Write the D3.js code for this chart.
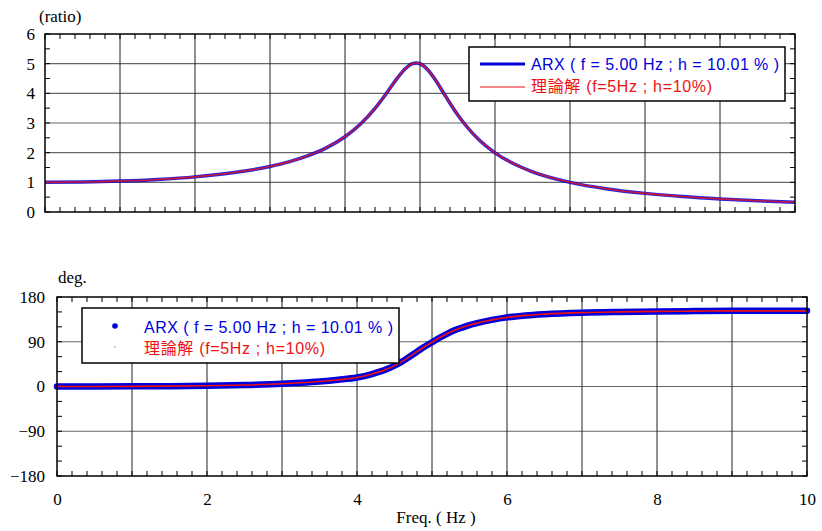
<!DOCTYPE html>
<html><head><meta charset="utf-8">
<script src="https://cdn.jsdelivr.net/npm/d3@7"></script>
<style>body{margin:0;background:#fff}</style></head>
<body>
<svg id="c" width="822" height="531"></svg>
<script>
const freq = [0,0.5,1,1.5,2,2.5,3,3.25,3.5,3.75,4,4.2,4.4,4.5,4.6,4.7,4.8,4.9,4.95,5,5.1,5.2,5.3,5.4,5.5,5.6,5.8,6,6.25,6.5,7,7.5,8,8.5,9,9.5,10];
const theoryRatio = [1.000,1.010,1.041,1.097,1.185,1.322,1.536,1.689,1.891,2.162,2.538,2.950,3.495,3.821,4.172,4.522,4.822,5.001,5.025,5.000,4.809,4.476,4.075,3.668,3.288,2.950,2.402,1.995,1.625,1.356,1.000,0.778,0.628,0.521,0.441,0.379,0.330];
const arxRatio = [1.000,1.010,1.041,1.097,1.184,1.321,1.535,1.688,1.890,2.161,2.537,2.949,3.493,3.819,4.170,4.520,4.820,4.999,5.022,4.997,4.806,4.473,4.072,3.666,3.286,2.949,2.401,1.995,1.625,1.356,1.000,0.778,0.628,0.521,0.441,0.379,0.330];
const theoryPhase = [0,0.1,0.3,0.7,1.5,3,5.5,7.5,10,13.5,18,25,35,42,50,60,70,80,84.5,89,98,106,113,118.5,123.5,127.5,134,139,143,145.5,148.5,150,151,151.5,152,152,152];
const arxPhase = [0,0.1,0.3,0.7,1.5,3,5.5,7.5,10,13.5,18,25,35,42,50,60,70,80,84.5,89,98,106,113,118.5,123.5,127.5,134,139,143,145.5,148.5,150,151,151.6,152.1,152.2,152.2];
const xTicks = [0,2,4,6,8,10];
const ratioTicks = [0,1,2,3,4,5,6];
const phaseTicks = [-180,-90,0,90,180];
const legendLabels = ["ARX ( f = 5.00 Hz ; h = 10.01 % )", "理論解 (f=5Hz ; h=10%)"];

const svg = d3.select("#c");
const serif = '"Liberation Serif","Times New Roman",serif';
const sans = '"Liberation Sans",Arial,"Noto Sans CJK JP",sans-serif';
const BLUE = "#0000dd", RED = "#ee1111";

function panel(x, y, gridX, gridY, minorX, minorY) {
  const g = svg.append("g");
  const [x0, x1] = x.range(), [yb, yt] = y.range();
  g.selectAll("line.gy").data(gridY).join("line").attr("class","gy")
    .attr("x1", x0).attr("x2", x1).attr("y1", d => y(d)).attr("y2", d => y(d))
    .attr("stroke", "#666").attr("stroke-width", 1.2);
  g.selectAll("line.gx").data(gridX).join("line").attr("class","gx")
    .attr("y1", yt).attr("y2", yb).attr("x1", d => x(d)).attr("x2", d => x(d))
    .attr("stroke", "#222").attr("stroke-width", 1);
  const t = 5;
  const tk = svg.append("g");
  tk.selectAll("line.mb").data(minorX).join("line").attr("class","mb")
    .attr("x1", d => x(d)).attr("x2", d => x(d)).attr("y1", yb).attr("y2", yb - t);
  tk.selectAll("line.mt").data(minorX).join("line").attr("class","mt")
    .attr("x1", d => x(d)).attr("x2", d => x(d)).attr("y1", yt).attr("y2", yt + t);
  tk.selectAll("line.ml").data(minorY).join("line").attr("class","ml")
    .attr("y1", d => y(d)).attr("y2", d => y(d)).attr("x1", x0).attr("x2", x0 + t);
  tk.selectAll("line.mr").data(minorY).join("line").attr("class","mr")
    .attr("y1", d => y(d)).attr("y2", d => y(d)).attr("x1", x1).attr("x2", x1 - t);
  tk.selectAll("line").attr("stroke", "#000").attr("stroke-width", 1);
  return {g, tk};
}

function frame(x, y) {
  const [x0, x1] = x.range(), [yb, yt] = y.range();
  svg.append("rect").attr("x", x0).attr("y", yt).attr("width", x1 - x0).attr("height", yb - yt)
    .attr("fill", "none").attr("stroke", "#000").attr("stroke-width", 1.5);
}

// ---------- Top panel ----------
const xT = d3.scaleLinear().domain([0, 10]).range([45, 795]);
const yT = d3.scaleLinear().domain([0, 6]).range([212, 34]);
const minorX = d3.range(0, 10.001, 0.2);
const p1 = panel(xT, yT, d3.range(1, 10), [1,2,3,4,5], minorX, d3.range(0, 6.01, 0.5));

const lineT = (arr) => d3.line().x((d, i) => xT(freq[i])).y(d => yT(d)).curve(d3.curveMonotoneX)(arr);
svg.append("path").attr("d", lineT(arxRatio)).attr("fill", "none").attr("stroke", BLUE).attr("stroke-width", 3.5).attr("stroke-opacity", 0.85);
svg.append("path").attr("d", lineT(theoryRatio)).attr("fill", "none").attr("stroke", RED).attr("stroke-width", 1.6).attr("stroke-opacity", 0.8);
frame(xT, yT);

const axT = svg.append("g").attr("transform", `translate(${xT.range()[0]},0)`)
  .call(d3.axisLeft(yT).tickValues(ratioTicks).tickSize(0).tickPadding(10).tickFormat(d3.format("d")));
axT.select(".domain").remove();
axT.selectAll("text").attr("font-family", serif).attr("font-size", 17).attr("fill", "#000");
svg.append("text").attr("x", 39).attr("y", 22).text("(ratio)")
  .attr("font-family", serif).attr("font-size", 17).attr("fill", "#000");

// legend top
const lg1 = svg.append("g");
lg1.append("rect").attr("x", 469).attr("y", 47).attr("width", 316).attr("height", 54)
  .attr("fill", "#fff").attr("stroke", "#000").attr("stroke-width", 1.5);
lg1.append("line").attr("x1", 480).attr("x2", 525).attr("y1", 64).attr("y2", 64).attr("stroke", BLUE).attr("stroke-width", 3);
lg1.append("line").attr("x1", 480).attr("x2", 525).attr("y1", 87).attr("y2", 87).attr("stroke", RED).attr("stroke-width", 1.2);
lg1.append("text").attr("x", 531).attr("y", 70).text(legendLabels[0]).attr("fill", BLUE)
  .attr("font-family", sans).attr("font-size", 16).attr("textLength", 248).attr("lengthAdjust", "spacing");
lg1.append("text").attr("x", 531).attr("y", 92).text(legendLabels[1]).attr("fill", RED)
  .attr("font-family", sans).attr("font-size", 16).attr("textLength", 181).attr("lengthAdjust", "spacing");

// ---------- Bottom panel ----------
const xB = d3.scaleLinear().domain([0, 10]).range([57, 807]);
const yB = d3.scaleLinear().domain([-180, 180]).range([476, 297]);
const p2 = panel(xB, yB, d3.range(1, 10), [-90, 0, 90], minorX, d3.range(-180, 181, 30));

const lineB = (arr) => d3.line().x((d, i) => xB(freq[i])).y(d => yB(d)).curve(d3.curveMonotoneX)(arr);
svg.append("path").attr("d", lineB(arxPhase)).attr("fill", "none").attr("stroke", BLUE).attr("stroke-width", 6.5).attr("stroke-linecap", "round");
svg.append("path").attr("d", lineB(theoryPhase)).attr("fill", "none").attr("stroke", RED).attr("stroke-width", 1.6);
frame(xB, yB);

const axBy = svg.append("g").attr("transform", `translate(${xB.range()[0]},0)`)
  .call(d3.axisLeft(yB).tickValues(phaseTicks).tickSize(0).tickPadding(12).tickFormat(d3.format("d")));
axBy.select(".domain").remove();
axBy.selectAll("text").attr("font-family", serif).attr("font-size", 17).attr("fill", "#000");
const axBx = svg.append("g").attr("transform", `translate(0,${yB.range()[0]})`)
  .call(d3.axisBottom(xB).tickValues(xTicks).tickSize(0).tickPadding(17).tickFormat(d3.format("d")));
axBx.select(".domain").remove();
axBx.selectAll("text").attr("font-family", serif).attr("font-size", 17).attr("fill", "#000");
svg.append("text").attr("x", 58).attr("y", 283).text("deg.")
  .attr("font-family", serif).attr("font-size", 17).attr("fill", "#000");
svg.append("text").attr("x", 436).attr("y", 523).attr("text-anchor", "middle").text("Freq. ( Hz )")
  .attr("font-family", serif).attr("font-size", 17).attr("fill", "#000");

// legend bottom
const lg2 = svg.append("g");
lg2.append("rect").attr("x", 82).attr("y", 308).attr("width", 317).attr("height", 55)
  .attr("fill", "#fff").attr("stroke", "#000").attr("stroke-width", 1.5);
lg2.append("circle").attr("cx", 115).attr("cy", 326).attr("r", 2.8).attr("fill", BLUE);
lg2.append("circle").attr("cx", 115).attr("cy", 347).attr("r", 0.8).attr("fill", RED).attr("opacity", 0.6);
lg2.append("text").attr("x", 144).attr("y", 333).text(legendLabels[0]).attr("fill", BLUE)
  .attr("font-family", sans).attr("font-size", 16).attr("textLength", 249).attr("lengthAdjust", "spacing");
lg2.append("text").attr("x", 144).attr("y", 354).text(legendLabels[1]).attr("fill", RED)
  .attr("font-family", sans).attr("font-size", 16).attr("textLength", 181).attr("lengthAdjust", "spacing");
</script>
</body></html>
